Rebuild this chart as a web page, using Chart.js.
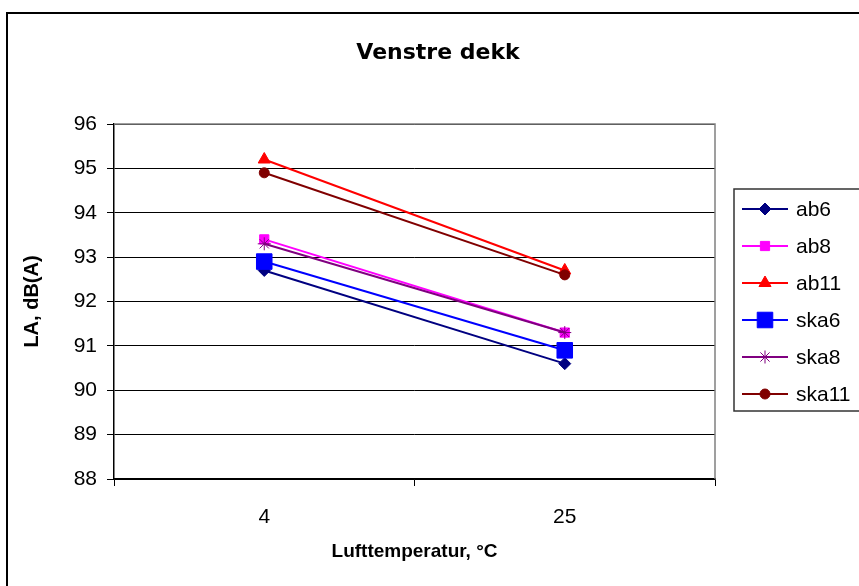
<!DOCTYPE html>
<html>
<head>
<meta charset="utf-8">
<title>Venstre dekk</title>
<script src="https://cdn.jsdelivr.net/npm/chart.js@4.4.1/dist/chart.umd.min.js"></script>
<style>
    body { margin: 0; background: #fff; }
    #wrap { width: 859px; height: 586px; position: relative; }
</style>
</head>
<body>
<div id="wrap"><canvas id="chart"></canvas></div>
<script>
// Data
const categories = ['4', '25'];
const seriesNames = ['ab6', 'ab8', 'ab11', 'ska6', 'ska8', 'ska11'];
const ab6 = [92.7, 90.6];
const ab8 = [93.4, 91.3];
const ab11 = [95.2, 92.7];
const ska6 = [92.9, 90.9];
const ska8 = [93.3, 91.3];
const ska11 = [94.9, 92.6];
const yMin = 88;
const yMax = 96;
const yStep = 1;

const chartTitle = 'Venstre dekk';
const xTitle = 'Lufttemperatur, °C';
const yTitle = 'LA, dB(A)';

// Excel-like series styles
const styles = [
    { color: '#000080', point: 'rectRot', radius: 6 },
    { color: '#FF00FF', point: 'rect', radius: 6.5 },
    { color: '#FF0000', point: 'triangle', radius: 7 },
    { color: '#0000FF', point: 'rect', radius: 11 },
    { color: '#800080', point: 'star', radius: 6.5 },
    { color: '#800000', point: 'circle', radius: 5 }
];
const seriesValues = [ab6, ab8, ab11, ska6, ska8, ska11];

function buildDatasets() {
    return seriesNames.map((name, i) => ({
        label: name,
        data: seriesValues[i],
        borderColor: styles[i].color,
        backgroundColor: styles[i].color,
        pointBackgroundColor: styles[i].color,
        pointBorderColor: styles[i].color,
        pointStyle: styles[i].point,
        pointRadius: styles[i].radius,
        pointBorderWidth: 1,
        borderWidth: 2,
        tension: 0,
        // later series are drawn on top, like Excel
        order: seriesNames.length - i
    }));
}

// Draws frame, titles and the legend box
const decorPlugin = {
    id: 'decor',
    afterDraw(chart) {
        const ctx = chart.ctx;
        const area = chart.chartArea;
        ctx.save();

        // outer chart border
        ctx.strokeStyle = '#000';
        ctx.lineWidth = 2;
        ctx.strokeRect(7, 13, 900, 600);

        // plot area top and right border
        ctx.strokeStyle = '#808080';
        ctx.lineWidth = 1.5;
        ctx.beginPath();
        ctx.moveTo(area.left, area.top);
        ctx.lineTo(area.right, area.top);
        ctx.lineTo(area.right, area.bottom);
        ctx.stroke();

        // chart title
        ctx.fillStyle = '#000';
        ctx.font = 'bold 22px "DejaVu Sans"';
        ctx.textAlign = 'center';
        ctx.textBaseline = 'alphabetic';
        ctx.fillText(chartTitle, 438, 59);

        // axis titles
        ctx.font = 'bold 19px "Liberation Sans", Arial';
        ctx.textBaseline = 'middle';
        ctx.fillText(xTitle, (area.left + area.right) / 2, 552);
        ctx.font = 'bold 20px "Liberation Sans", Arial';
        ctx.save();
        ctx.translate(32, (area.top + area.bottom) / 2);
        ctx.rotate(-Math.PI / 2);
        ctx.fillText(yTitle, 0, 0);
        ctx.restore();

        // legend
        ctx.strokeStyle = '#333';
        ctx.lineWidth = 1.5;
        ctx.strokeRect(734, 189, 200, 222);
        ctx.font = '21px "Liberation Sans", Arial';
        ctx.textAlign = 'left';
        chart.data.datasets.forEach((ds, i) => {
            const y = 209 + i * 37;
            ctx.strokeStyle = ds.borderColor;
            ctx.lineWidth = 2;
            ctx.beginPath();
            ctx.moveTo(742, y);
            ctx.lineTo(788, y);
            ctx.stroke();
            ctx.fillStyle = ds.pointBackgroundColor;
            ctx.lineWidth = 1;
            Chart.helpers.drawPoint(ctx, {
                pointStyle: ds.pointStyle,
                radius: ds.pointRadius,
                borderWidth: 1,
                rotation: 0
            }, 765, y);
            ctx.fillStyle = '#000';
            ctx.fillText(ds.label, 796, y + 1);
        });

        ctx.restore();
    }
};

const tickFont = { family: '"Liberation Sans", Arial', size: 21 };

new Chart(document.getElementById('chart'), {
    type: 'line',
    data: {
        labels: categories,
        datasets: buildDatasets()
    },
    options: {
        responsive: true,
        maintainAspectRatio: false,
        animation: false,
        layout: { padding: { left: 0, top: 124, right: 144, bottom: 0 } },
        plugins: {
            legend: { display: false },
            title: { display: false },
            tooltip: { enabled: false }
        },
        scales: {
            x: {
                type: 'category',
                offset: true,
                grid: {
                    offset: true,
                    drawOnChartArea: false,
                    drawTicks: true,
                    tickLength: 7,
                    color: '#000'
                },
                border: { color: '#000', width: 1.5 },
                ticks: { color: '#000', font: tickFont, padding: 19 },
                afterFit(scale) { scale.height = 107; }
            },
            y: {
                min: yMin,
                max: yMax,
                grid: { color: '#000', lineWidth: 1, tickLength: 7 },
                border: { color: '#000', width: 1.5 },
                ticks: { stepSize: yStep, color: '#000', font: tickFont, padding: 10 },
                afterFit(scale) { scale.width = 114; }
            }
        }
    },
    plugins: [decorPlugin]
});
</script>
</body>
</html>
